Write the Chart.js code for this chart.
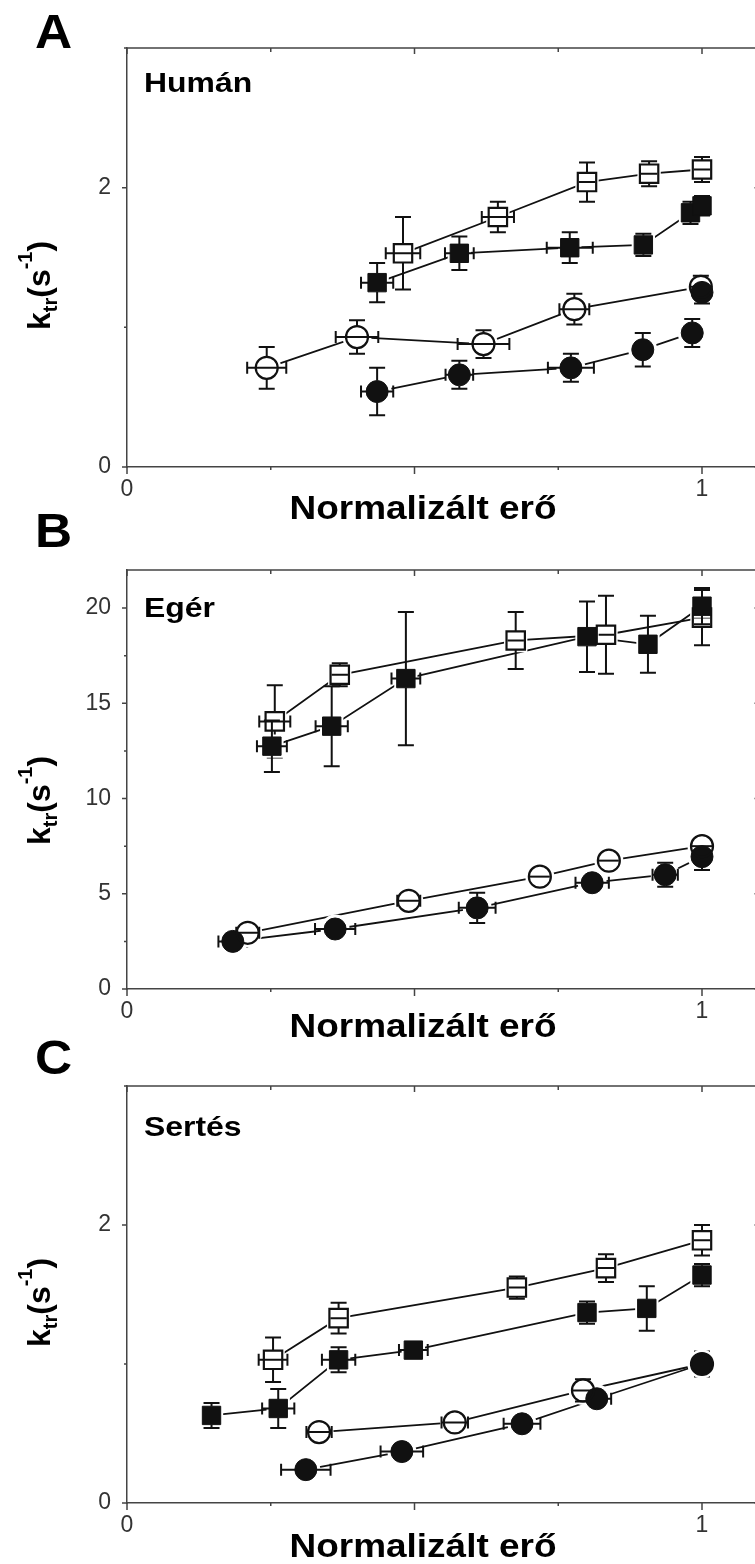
<!DOCTYPE html>
<html>
<head>
<meta charset="utf-8">
<script src="https://cdn.jsdelivr.net/npm/chart.js@4.4.0/dist/chart.umd.min.js"></script>
<style>
    html, body { margin: 0; padding: 0; background: #fff; }
    #page { position: relative; width: 755px; height: 1564px; overflow: hidden; background: #fff; }
    #page canvas { position: absolute; left: 0; }
</style>
</head>
<body>
<div id="page">
    <canvas id="panelA" width="790" height="530" style="top:0px"></canvas>
    <canvas id="panelB" width="790" height="550" style="top:495px"></canvas>
    <canvas id="panelC" width="790" height="549" style="top:1015px"></canvas>
</div>
<script>
// values: [normalised force, ktr, x error, y error]

// A - Humán
const humanOpenSquares = [[0.48, 1.53, 0.03, 0.26], [0.645, 1.79, 0.028, 0.11], [0.80, 2.04, 0.012, 0.14], [0.908, 2.10, 0.012, 0.09], [1.0, 2.13, 0.01, 0.09]];
const humanFilledSquares = [[0.435, 1.32, 0.028, 0.14], [0.578, 1.53, 0.025, 0.12], [0.77, 1.57, 0.04, 0.11], [0.898, 1.59, 0.01, 0.08], [0.98, 1.82, 0.01, 0.08], [1.0, 1.87, 0.01, 0.07]];
const humanOpenCircles = [[0.243, 0.71, 0.034, 0.15], [0.40, 0.93, 0.037, 0.12], [0.62, 0.88, 0.045, 0.10], [0.778, 1.13, 0.026, 0.11], [0.998, 1.29, 0.01, 0.08]];
const humanFilledCircles = [[0.435, 0.54, 0.028, 0.17], [0.578, 0.66, 0.024, 0.10], [0.772, 0.71, 0.04, 0.10], [0.897, 0.84, 0.01, 0.12], [0.983, 0.96, 0.01, 0.10]];
const humanFilledCircleExtra = [[1.0, 1.25, 0.01, 0.08]];

// B - Egér
const mouseOpenSquares = [[0.257, 14.05, 0.027, 1.9], [0.37, 16.5, 0.012, 0.6], [0.676, 18.3, 0.012, 1.5], [0.833, 18.6, 0.012, 2.05], [1.0, 19.5, 0.01, 1.45]];
const mouseFilledSquares = [[0.252, 12.75, 0.026, 1.35], [0.356, 13.8, 0.028, 2.1], [0.485, 16.3, 0.025, 3.5], [0.80, 18.5, 0.012, 1.85], [0.906, 18.1, 0.01, 1.5], [1.0, 20.1, 0.01, 0.95]];
const mouseOpenCircles = [[0.21, 2.95, 0.02, 0.3], [0.49, 4.63, 0.02, 0.3], [0.718, 5.9, 0.01, 0.3], [0.838, 6.74, 0.01, 0.3], [1.0, 7.5, 0.01, 0.3]];
const mouseFilledCircles = [[0.184, 2.5, 0.025, 0.25], [0.362, 3.15, 0.035, 0.4], [0.609, 4.26, 0.032, 0.8], [0.809, 5.58, 0.029, 0.5], [0.936, 6.0, 0.022, 0.63], [1.0, 6.95, 0.01, 0.7]];

// C - Sertés
const pigOpenSquares = [[0.254, 1.03, 0.025, 0.16], [0.368, 1.33, 0.012, 0.11], [0.678, 1.55, 0.012, 0.08], [0.833, 1.69, 0.012, 0.10], [1.0, 1.89, 0.01, 0.11]];
const pigFilledSquares = [[0.147, 0.63, 0.01, 0.09], [0.263, 0.68, 0.028, 0.14], [0.368, 1.03, 0.029, 0.09], [0.498, 1.10, 0.025, 0.06], [0.80, 1.37, 0.012, 0.08], [0.904, 1.40, 0.01, 0.16], [1.0, 1.64, 0.01, 0.08]];
const pigOpenCircles = [[0.334, 0.51, 0.022, 0.04], [0.57, 0.58, 0.023, 0.05], [0.793, 0.81, 0.012, 0.08], [1.0, 1.0, 0.01, 0.05]];
const pigFilledCircles = [[0.311, 0.24, 0.043, 0.04], [0.478, 0.37, 0.037, 0.04], [0.687, 0.57, 0.032, 0.04], [0.817, 0.75, 0.025, 0.04], [1.0, 1.0, 0.01, 0.09]];

// axis ticks
const xTickValues = [0, 0.25, 0.5, 0.75, 1];
const xTickLabels = [0, 1];
const humanYTicks = [0, 1, 2, 3];
const humanYLabels = [0, 2];
const mouseYTicks = [0, 2.5, 5, 7.5, 10, 12.5, 15, 17.5, 20];
const mouseYLabels = [0, 5, 10, 15, 20];
const pigYTicks = [0, 1, 2, 3];
const pigYLabels = [0, 2];

const xTitle = 'Normalizált erő';
const INK = '#111';
const AXIS = '#444';
const FONT = "'Liberation Sans', Arial, sans-serif";

Chart.defaults.font.family = FONT;

// builds line + white halo + marker for one series
function seriesDatasets(points, shape, open, withLine) {
    const data = points.map(p => ({ x: p[0], y: p[1] }));
    const r = shape === 'rect' ? 13 : 11;
    const half = shape === 'rect' ? 9.2 : 11;
    const sets = [];
    if (withLine) {
        sets.push({ kind: 'line', data: data, showLine: true, borderColor: INK, borderWidth: 1.8, pointRadius: 0, order: 3 });
    }
    sets.push({
        kind: 'halo', data: data, points: points, open: open, half: half, showLine: false,
        pointStyle: shape, pointRadius: r + 3.5, backgroundColor: '#fff', borderColor: '#fff', borderWidth: 0, order: 2
    });
    sets.push({
        kind: 'marker', data: data, showLine: false, pointStyle: shape, pointRadius: r,
        backgroundColor: open ? 'rgba(0,0,0,0)' : INK, borderColor: INK, borderWidth: open ? 2.2 : 1, order: 1
    });
    return sets;
}

function drawErrorBars(chart, ds) {
    const ctx = chart.ctx, xs = chart.scales.x, ys = chart.scales.y;
    const half = ds.half;
    ctx.save();
    ctx.strokeStyle = INK;
    ctx.lineWidth = 2;
    ds.points.forEach(([x, y, ex, ey]) => {
        const px = xs.getPixelForValue(x), py = ys.getPixelForValue(y);
        const top = ys.getPixelForValue(y + ey), bot = ys.getPixelForValue(y - ey);
        const left = xs.getPixelForValue(x - ex), right = xs.getPixelForValue(x + ex);
        ctx.beginPath();
        if (py - top > half) {
            ctx.moveTo(px, top); ctx.lineTo(px, py - half);
            ctx.moveTo(px - 8, top); ctx.lineTo(px + 8, top);
        }
        if (bot - py > half) {
            ctx.moveTo(px, bot); ctx.lineTo(px, py + half);
            ctx.moveTo(px - 8, bot); ctx.lineTo(px + 8, bot);
        }
        const span = px - left;
        if (span > half) {
            ctx.moveTo(left, py); ctx.lineTo(right, py);
            ctx.moveTo(left, py - 6); ctx.lineTo(left, py + 6);
            ctx.moveTo(right, py - 6); ctx.lineTo(right, py + 6);
        } else if (ds.open) {
            ctx.moveTo(px - half + 1, py); ctx.lineTo(px + half - 1, py);
        }
        ctx.stroke();
    });
    ctx.restore();
}

function stretchText(ctx, text, x, y, sx, align) {
    ctx.save();
    ctx.translate(x, y);
    ctx.scale(sx, 1);
    ctx.textAlign = align || 'left';
    ctx.fillText(text, 0, 0);
    ctx.restore();
}

function makeDecor(panel) {
    return {
        id: 'decor' + panel.letter,
        afterDatasetDraw(chart, args) {
            const ds = chart.data.datasets[args.index];
            if (ds.kind === 'halo') drawErrorBars(chart, ds);
        },
        afterDraw(chart) {
            const ctx = chart.ctx, a = chart.chartArea;
            const xs = chart.scales.x, ys = chart.scales.y;
            const off = panel.canvasTop;
            ctx.save();
            ctx.strokeStyle = AXIS;
            ctx.lineWidth = 1.5;
            ctx.beginPath();
            // top and right frame
            ctx.moveTo(a.left, a.top); ctx.lineTo(a.right, a.top); ctx.lineTo(a.right, a.bottom);
            xTickValues.forEach(v => {
                const px = xs.getPixelForValue(v);
                const major = (v * 2) % 1 === 0;
                ctx.moveTo(px, a.bottom); ctx.lineTo(px, a.bottom + (major ? 7 : 3));
                ctx.moveTo(px, a.top); ctx.lineTo(px, a.top + (major ? 6 : 4));
            });
            panel.yTicks.forEach(v => {
                const py = ys.getPixelForValue(v);
                const major = panel.yLabels.includes(v);
                ctx.moveTo(a.left, py); ctx.lineTo(a.left - (major ? 5 : 3), py);
                ctx.moveTo(a.right, py); ctx.lineTo(a.right - (major ? 5 : 3), py);
            });
            ctx.stroke();

            ctx.fillStyle = '#000';
            ctx.textBaseline = 'alphabetic';
            ctx.font = 'bold 49px ' + FONT;
            stretchText(ctx, panel.letter, 35, panel.letterY - off, 1.05);
            ctx.font = 'bold 28px ' + FONT;
            stretchText(ctx, panel.species, 144, panel.speciesY - off, 1.14);
            ctx.font = 'bold 33px ' + FONT;
            stretchText(ctx, xTitle, 423, panel.xTitleY - off, 1.12, 'center');

            // y title k_tr(s^-1), rotated
            ctx.translate(50, panel.yTitleBottom - off);
            ctx.rotate(-Math.PI / 2);
            ctx.textAlign = 'left';
            let cx = 0;
            const parts = [['k', 32, 0], ['tr', 20, 7], ['(s', 32, 0], ['-1', 20, -18], [')', 32, 0]];
            parts.forEach(([t, size, shift]) => {
                ctx.font = 'bold ' + size + 'px ' + FONT;
                ctx.fillText(t, cx, shift);
                cx += ctx.measureText(t).width;
            });
            ctx.restore();
        }
    };
}

const panels = [
    {
        id: 'panelA', letter: 'A', species: 'Humán', canvasTop: 0, canvasH: 530, chartTop: 48, chartBottom: 467,
        yMax: 3, yTicks: humanYTicks, yLabels: humanYLabels,
        letterY: 48, speciesY: 92, xTitleY: 519, yTitleBottom: 330,
        datasets: [].concat(
            seriesDatasets(humanOpenCircles, 'circle', true, true),
            seriesDatasets(humanFilledCircles, 'circle', false, true),
            seriesDatasets(humanFilledCircleExtra, 'circle', false, false),
            seriesDatasets(humanFilledSquares, 'rect', false, true),
            seriesDatasets(humanOpenSquares, 'rect', true, true)
        )
    },
    {
        id: 'panelB', letter: 'B', species: 'Egér', canvasTop: 495, canvasH: 550, chartTop: 570, chartBottom: 989,
        yMax: 22, yTicks: mouseYTicks, yLabels: mouseYLabels,
        letterY: 547, speciesY: 617, xTitleY: 1037, yTitleBottom: 845,
        datasets: [].concat(
            seriesDatasets(mouseOpenCircles, 'circle', true, true),
            seriesDatasets(mouseFilledCircles, 'circle', false, true),
            seriesDatasets(mouseFilledSquares, 'rect', false, true),
            seriesDatasets(mouseOpenSquares, 'rect', true, true)
        )
    },
    {
        id: 'panelC', letter: 'C', species: 'Sertés', canvasTop: 1015, canvasH: 549, chartTop: 1086, chartBottom: 1503,
        yMax: 3, yTicks: pigYTicks, yLabels: pigYLabels,
        letterY: 1074, speciesY: 1136, xTitleY: 1557, yTitleBottom: 1347,
        datasets: [].concat(
            seriesDatasets(pigOpenCircles, 'circle', true, true),
            seriesDatasets(pigFilledCircles, 'circle', false, true),
            seriesDatasets(pigFilledSquares, 'rect', false, true),
            seriesDatasets(pigOpenSquares, 'rect', true, true)
        )
    }
];

panels.forEach(panel => {
    const xAxisH = panel.canvasTop + panel.canvasH - panel.chartBottom;
    const tickFont = { size: 23, family: FONT };
    new Chart(document.getElementById(panel.id), {
        type: 'scatter',
        data: { datasets: panel.datasets },
        options: {
            responsive: false,
            animation: false,
            events: [],
            layout: { padding: { top: panel.chartTop - panel.canvasTop, right: 30.5, bottom: 0, left: 0 } },
            plugins: { legend: { display: false }, tooltip: { enabled: false } },
            scales: {
                x: {
                    type: 'linear', min: 0, max: 1.1,
                    afterBuildTicks: s => { s.ticks = xTickLabels.map(v => ({ value: v })); },
                    afterFit: s => { s.height = xAxisH; },
                    ticks: { font: tickFont, color: '#333', padding: 9, maxRotation: 0, autoSkip: false },
                    grid: { display: false, drawTicks: false },
                    border: { display: true, color: AXIS, width: 1.5 }
                },
                y: {
                    type: 'linear', min: 0, max: panel.yMax,
                    afterBuildTicks: s => { s.ticks = panel.yLabels.map(v => ({ value: v })); },
                    afterFit: s => { s.width = 127; },
                    ticks: { font: tickFont, color: '#333', padding: 16, autoSkip: false },
                    grid: { display: false, drawTicks: false },
                    border: { display: true, color: AXIS, width: 1.5 }
                }
            }
        },
        plugins: [makeDecor(panel)]
    });
});
</script>
</body>
</html>
